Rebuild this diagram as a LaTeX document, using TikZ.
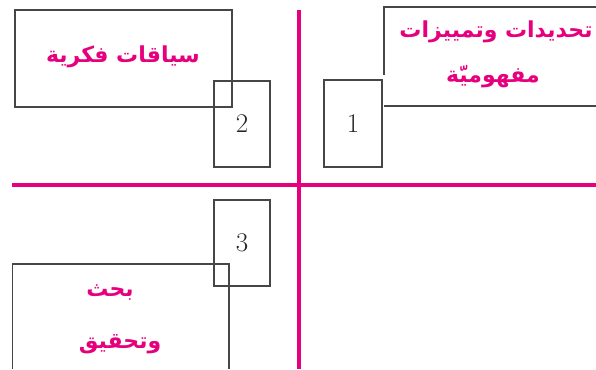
\documentclass[tikz,border=0pt]{standalone}
\usepackage{fontspec}
\newfontfamily\arabicfont[Script=Arabic]{DejaVu Sans}
\TeXXeTstate=1
\definecolor{pinkline}{RGB}{230,0,126}
\definecolor{boxgray}{RGB}{70,70,70}
\tikzset{
  divider/.style={draw=pinkline, line width=4pt},
  frame/.style={draw=boxgray, line width=1.1pt},
  numbox/.style={frame, rectangle, inner sep=0pt, font=\fontsize{27}{30}\selectfont, text=black!85},
  plainbox/.style={frame, rectangle, inner sep=0pt},
  artext/.style={text=pinkline, font=\arabicfont\bfseries\fontsize{22}{26}\selectfont, inner sep=0pt},
}
\begin{document}
\begin{tikzpicture}[x=1pt,y=-1pt]
\useasboundingbox (0,0) rectangle (596,369);
% dividers
\coordinate (vtop) at (299,10);
\coordinate (vbot) at (299,369);
\coordinate (hl) at (12,185);
\coordinate (hr) at (596,185);
\draw[divider] (vtop) -- (vbot);
\draw[divider] (hl) -- (hr);
% quadrant 2 (top left)
\coordinate (c1) at (15,10);
\coordinate (c2) at (232,107);
\draw[frame] (c1) rectangle (c2);
\node[artext] (ctx) at (123,57) {\beginR سياقات فكرية\endR};
\node[numbox, minimum width=56pt, minimum height=86pt] (b2) at (242,124) {2};
% quadrant 1 (top right)
\coordinate (t1) at (384,75);
\coordinate (t2) at (384,7);
\coordinate (t3) at (596,7);
\coordinate (t4) at (596,106);
\coordinate (t5) at (384,106);
\draw[frame] (t1) -- (t2) -- (t3);
\draw[frame] (t4) -- (t5);
\node[artext] (def1) at (496,32) {\beginR تحديدات وتمييزات\endR};
\node[artext] (def2) at (493,77) {\beginR مفهوميّة\endR};
\node[numbox, minimum width=58pt, minimum height=87pt] (b1) at (353,123.5) {1};
% quadrant 3 (bottom left)
\node[numbox, minimum width=56pt, minimum height=86pt] (b3) at (242,243) {3};
\coordinate (r1) at (12.5,264);
\coordinate (r2) at (229,369);
\coordinate (r3) at (12.5,369);
\draw[frame] (r3) -- (r1) -- (229,264) -- (r2);
\node[artext] (res1) at (110,292) {\beginR بحث\endR};
\node[artext] (res2) at (120,344) {\beginR وتحقيق\endR};
\end{tikzpicture}
\end{document}
